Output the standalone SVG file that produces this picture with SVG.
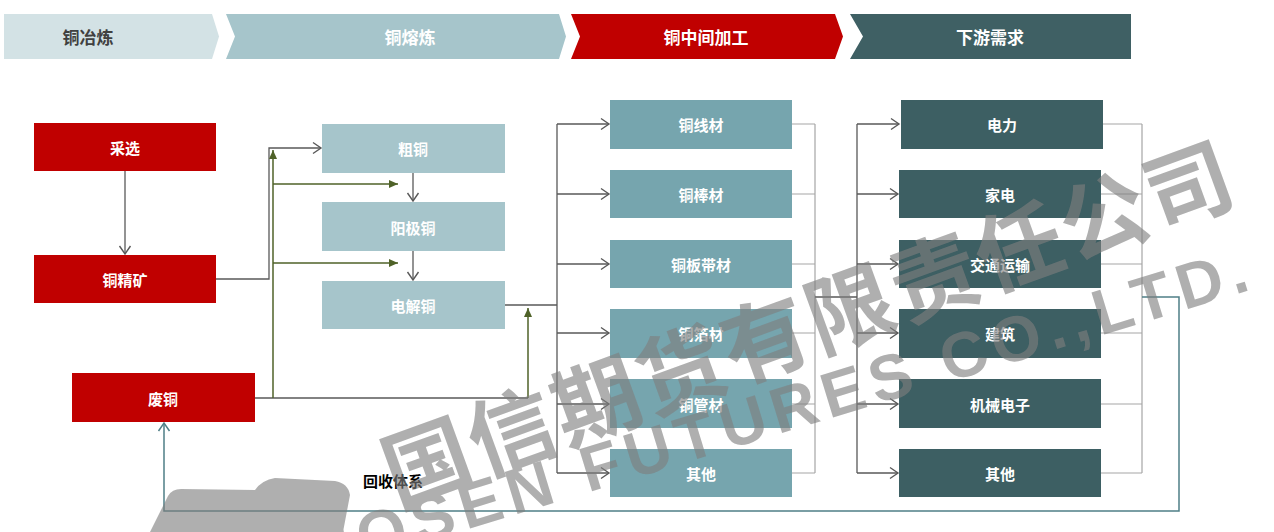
<svg xmlns="http://www.w3.org/2000/svg" width="1274" height="532" viewBox="0 0 1274 532">
<style>
.lbl{font-family:"Noto Sans CJK SC","Liberation Sans",sans-serif;font-weight:bold;font-size:15px;fill:#ffffff;text-anchor:middle;dominant-baseline:central}
.hdr{font-family:"Noto Sans CJK SC","Liberation Sans",sans-serif;font-weight:bold;font-size:17px;text-anchor:middle;dominant-baseline:central}
.red{fill:#c00000}
.lt{fill:#a6c5cb}
.md{fill:#76a5ae}
.dk{fill:#3d5f63}
.c{fill:none;stroke:#595959;stroke-width:1.3}
.cl{fill:none;stroke:#a6a6a6;stroke-width:1.2}
.g{fill:none;stroke:#4f6228;stroke-width:1.5}
.t{fill:none;stroke:#4f7f86;stroke-width:1.5}
.wm{font-weight:bold;fill:#7f7f7f}
</style>
<defs>
<marker id="oa" markerUnits="userSpaceOnUse" markerWidth="12" markerHeight="14" refX="10" refY="7" orient="auto">
<path d="M2,1.5 L10,7 L2,12.5" fill="none" stroke="#595959" stroke-width="1.4"/>
</marker>
<marker id="ta" markerUnits="userSpaceOnUse" markerWidth="12" markerHeight="14" refX="10" refY="7" orient="auto">
<path d="M2,1.5 L10,7 L2,12.5" fill="none" stroke="#4f7f86" stroke-width="1.5"/>
</marker>
<marker id="ga" markerUnits="userSpaceOnUse" markerWidth="10" markerHeight="10" refX="9" refY="5" orient="auto">
<path d="M0,1 L9,5 L0,9 z" fill="#4f6228"/>
</marker>
</defs>
<rect width="1274" height="532" fill="#ffffff"/>

<g id="header">
<polygon points="4,14 212,14 219,36.5 212,59 4,59" fill="#d3e2e5"/>
<text class="hdr" x="88" y="36.5" fill="#404040">铜冶炼</text>
<polygon points="226,14 559,14 566,36.5 559,59 226,59 235,36.5" fill="#a6c5cb"/>
<text class="hdr" x="410" y="36.5" fill="#ffffff">铜熔炼</text>
<polygon points="571,14 835,14 843,36.5 835,59 571,59 580,36.5" fill="#c00000"/>
<text class="hdr" x="706" y="36.5" fill="#ffffff">铜中间加工</text>
<polygon points="850,14 1131,14 1131,59 850,59 863,36.5" fill="#3f6064"/>
<text class="hdr" x="990" y="36.5" fill="#ffffff">下游需求</text>
</g>

<g id="connectors">
<path class="c" d="M125,171 V254" marker-end="url(#oa)"/>
<path class="c" d="M216,279 H269 V148 H321" marker-end="url(#oa)"/>
<path class="c" d="M413,173 V201" marker-end="url(#oa)"/>
<path class="c" d="M413,251 V280" marker-end="url(#oa)"/>
<path class="c" d="M255,398 H528"/>
<path class="g" d="M273,398 V150" marker-end="url(#ga)"/>
<path class="g" d="M273,184 H398" marker-end="url(#ga)"/>
<path class="g" d="M273,263 H398" marker-end="url(#ga)"/>
<path class="g" d="M528,398 V308" marker-end="url(#ga)"/>
<path class="c" d="M505,305 H557 M557,124 V473"/>
<path class="c" d="M557,124 H609" marker-end="url(#oa)"/>
<path class="c" d="M557,194 H609" marker-end="url(#oa)"/>
<path class="c" d="M557,264 H609" marker-end="url(#oa)"/>
<path class="c" d="M557,333 H609" marker-end="url(#oa)"/>
<path class="c" d="M557,404 H609" marker-end="url(#oa)"/>
<path class="c" d="M557,473 H609" marker-end="url(#oa)"/>
<path class="cl" d="M792,124 H815 M792,194 H815 M792,264 H815 M792,333 H815 M792,404 H815 M792,473 H815 M815,124 V473"/>
<path class="c" d="M815,297 H857 M857,124 V473"/>
<path class="c" d="M857,124 H899" marker-end="url(#oa)"/>
<path class="c" d="M857,194 H898" marker-end="url(#oa)"/>
<path class="c" d="M857,264 H898" marker-end="url(#oa)"/>
<path class="c" d="M857,333 H898" marker-end="url(#oa)"/>
<path class="c" d="M857,404 H898" marker-end="url(#oa)"/>
<path class="c" d="M857,473 H898" marker-end="url(#oa)"/>
<path class="cl" d="M1103,124 H1142 M1101,194 H1142 M1101,264 H1142 M1101,333 H1142 M1101,404 H1142 M1101,473 H1142 M1142,124 V473"/>
<path class="t" d="M1142,297 H1179 V511 H164 V423" marker-end="url(#ta)"/>
<text x="393" y="480" font-family="'Noto Sans CJK SC','Liberation Sans',sans-serif" font-weight="bold" font-size="15" fill="#000000" text-anchor="middle" dominant-baseline="central">回收体系</text>
</g>

<g id="n-caixuan"><rect class="red" x="34" y="123" width="182" height="48"/><text class="lbl" x="125" y="147">采选</text></g>
<g id="n-tongjingkuang"><rect class="red" x="34" y="255" width="182" height="48"/><text class="lbl" x="125" y="279">铜精矿</text></g>
<g id="n-feitong"><rect class="red" x="72" y="373" width="183" height="49"/><text class="lbl" x="163" y="398">废铜</text></g>

<g id="n-cutong"><rect class="lt" x="322" y="124" width="183" height="49"/><text class="lbl" x="413" y="148">粗铜</text></g>
<g id="n-yangjitong"><rect class="lt" x="322" y="202" width="183" height="49"/><text class="lbl" x="413" y="227">阳极铜</text></g>
<g id="n-dianjietong"><rect class="lt" x="322" y="281" width="183" height="48"/><text class="lbl" x="413" y="305">电解铜</text></g>

<g id="n-xiancai"><rect class="md" x="610" y="100" width="182" height="49"/><text class="lbl" x="701" y="124">铜线材</text></g>
<g id="n-bangcai"><rect class="md" x="610" y="170" width="182" height="48"/><text class="lbl" x="701" y="194">铜棒材</text></g>
<g id="n-bandaicai"><rect class="md" x="610" y="240" width="182" height="48"/><text class="lbl" x="701" y="264">铜板带材</text></g>
<g id="n-bocai"><rect class="md" x="610" y="309" width="182" height="49"/><text class="lbl" x="701" y="333">铜箔材</text></g>
<g id="n-guancai"><rect class="md" x="610" y="379" width="182" height="49"/><text class="lbl" x="701" y="404">铜管材</text></g>
<g id="n-qita1"><rect class="md" x="610" y="449" width="182" height="48"/><text class="lbl" x="701" y="473">其他</text></g>

<g id="n-dianli"><rect class="dk" x="901" y="100" width="202" height="49"/><text class="lbl" x="1002" y="124">电力</text></g>
<g id="n-jiadian"><rect class="dk" x="899" y="170" width="202" height="48"/><text class="lbl" x="1000" y="194">家电</text></g>
<g id="n-jiaotong"><rect class="dk" x="899" y="240" width="202" height="48"/><text class="lbl" x="1000" y="264">交通运输</text></g>
<g id="n-jianzhu"><rect class="dk" x="899" y="309" width="202" height="49"/><text class="lbl" x="1000" y="333">建筑</text></g>
<g id="n-jixie"><rect class="dk" x="899" y="379" width="202" height="49"/><text class="lbl" x="1000" y="404">机械电子</text></g>
<g id="n-qita2"><rect class="dk" x="899" y="449" width="202" height="48"/><text class="lbl" x="1000" y="473">其他</text></g>

<g id="watermark" opacity="0.62">
<text class="wm" font-family="'Noto Sans CJK SC','Liberation Sans',sans-serif" font-size="87" transform="translate(384,472) rotate(-20)" dominant-baseline="central" letter-spacing="3">国信期货有限责任公司</text>
<text class="wm" font-family="'Liberation Sans',sans-serif" font-size="64" transform="translate(259,593) rotate(-17)" letter-spacing="7">GUOSEN FUTURES CO.,LTD.</text>
<path d="M150,532 L168,496 Q172,489 181,489 L255,490 Q262,480 275,478 L335,481 Q348,483 350,495 L343,532 Z" fill="#7f7f7f"/>
</g>
</svg>
